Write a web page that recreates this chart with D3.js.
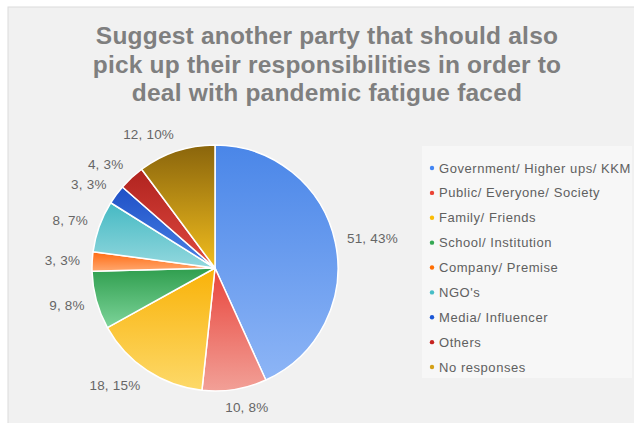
<!DOCTYPE html>
<html><head><meta charset="utf-8">
<script src="https://cdn.jsdelivr.net/npm/d3@7"></script>
<style>html,body{margin:0;padding:0;background:#fff;}svg{display:block;}</style>
</head><body>
<svg id="c" width="634" height="423"></svg>
<script>
const categories = ["Government/ Higher ups/ KKM","Public/ Everyone/ Society","Family/ Friends","School/ Institution","Company/ Premise","NGO's","Media/ Influencer","Others","No responses"];
const values = [51,10,18,9,3,8,3,4,12];
const percents = ["43%","8%","15%","8%","3%","7%","3%","3%","10%"];
const topColors = ["#4a86e8","#e8453c","#f9b208","#2f9e4e","#ff6a10","#45b9c3","#1f50c6","#b0231f","#8a650c"];
const bottomColors = ["#8db5f6","#f2a097","#fdd969","#7dd49a","#ffa870","#93d8de","#4a82e6","#e04a40","#f1bd1e"];
const legendColors = ["#4285f4","#ea4335","#fbbc04","#34a853","#ff6d01","#46bdc6","#1a56d6","#c5221f","#d4a017"];
const titleLines = ["Suggest another party that should also","pick up their responsibilities in order to","deal with pandemic fatigue faced"];

const svg = d3.select("#c");
const defs = svg.append("defs");

// background
svg.append("rect").attr("x",0).attr("y",0).attr("width",634).attr("height",423).attr("fill","#ffffff");
svg.append("rect").attr("x",8).attr("y",7).attr("width",640).attr("height",430)
  .attr("fill","#f1f1f1").attr("stroke","#dcdcdc").attr("stroke-width",1);

// title
const title = svg.append("text").attr("text-anchor","middle")
  .attr("font-family","Liberation Sans, Arial, sans-serif").attr("font-weight","bold")
  .attr("font-size",24.5).attr("fill","#7f7f7f");
titleLines.forEach((t,i)=>{
  title.append("tspan").attr("x",327).attr("y",44+i*28.5).attr("letter-spacing",0.2).text(t);
});

// pie
const cx = 215, cy = 268, r = 123;
const pie = d3.pie().sort(null).value(d=>d);
const arcs = pie(values);
const arc = d3.arc().innerRadius(0).outerRadius(r);

arcs.forEach((a,i)=>{
  const g = defs.append("linearGradient").attr("id","g"+i)
    .attr("x1",0).attr("y1",0).attr("x2",0).attr("y2",1);
  g.append("stop").attr("offset","0%").attr("stop-color",topColors[i]);
  g.append("stop").attr("offset","100%").attr("stop-color",bottomColors[i]);
});

const pg = svg.append("g").attr("transform",`translate(${cx},${cy})`);
pg.selectAll("path").data(arcs).join("path")
  .attr("d",arc)
  .attr("fill",(d,i)=>`url(#g${i})`)
  .attr("stroke","#ffffff").attr("stroke-width",1.5).attr("stroke-linejoin","round");

// labels
const lblFont = 13.5;
const lg = svg.append("g").attr("font-family","Liberation Sans, Arial, sans-serif")
  .attr("font-size",lblFont).attr("fill","#666666");
arcs.forEach((a,i)=>{
  const mid = (a.startAngle+a.endAngle)/2;
  const dx = Math.sin(mid), dy = -Math.cos(mid);
  const px = cx + dx*(r+12), py = cy + dy*(r+12);
  const txt = `${values[i]}, ${percents[i]}`;
  const t = lg.append("text").text(txt).attr("text-anchor","middle").attr("letter-spacing",0.2);
  const w = t.node().getComputedTextLength();
  const h = 12;
  const sx = Math.sign(dx)*Math.min(1,Math.abs(dx)*3);
  const tx = px + sx*w/2;
  const ty = py + dy*h/2;
  t.attr("x",tx).attr("y",ty+lblFont*0.35);
});

// legend
svg.append("rect").attr("x",422).attr("y",146).attr("width",210).attr("height",232)
  .attr("fill","#f7f7f7");
const leg = svg.append("g").attr("font-family","Liberation Sans, Arial, sans-serif")
  .attr("font-size",13).attr("fill","#606060");
const ly = d3.scalePoint().domain(categories).range([168,367]);
categories.forEach((c,i)=>{
  leg.append("circle").attr("cx",432).attr("cy",ly(c)).attr("r",2.2).attr("fill",legendColors[i]);
  leg.append("text").attr("x",439).attr("y",ly(c)+4.5).attr("letter-spacing",0.55).text(c);
});
</script>
</body></html>
